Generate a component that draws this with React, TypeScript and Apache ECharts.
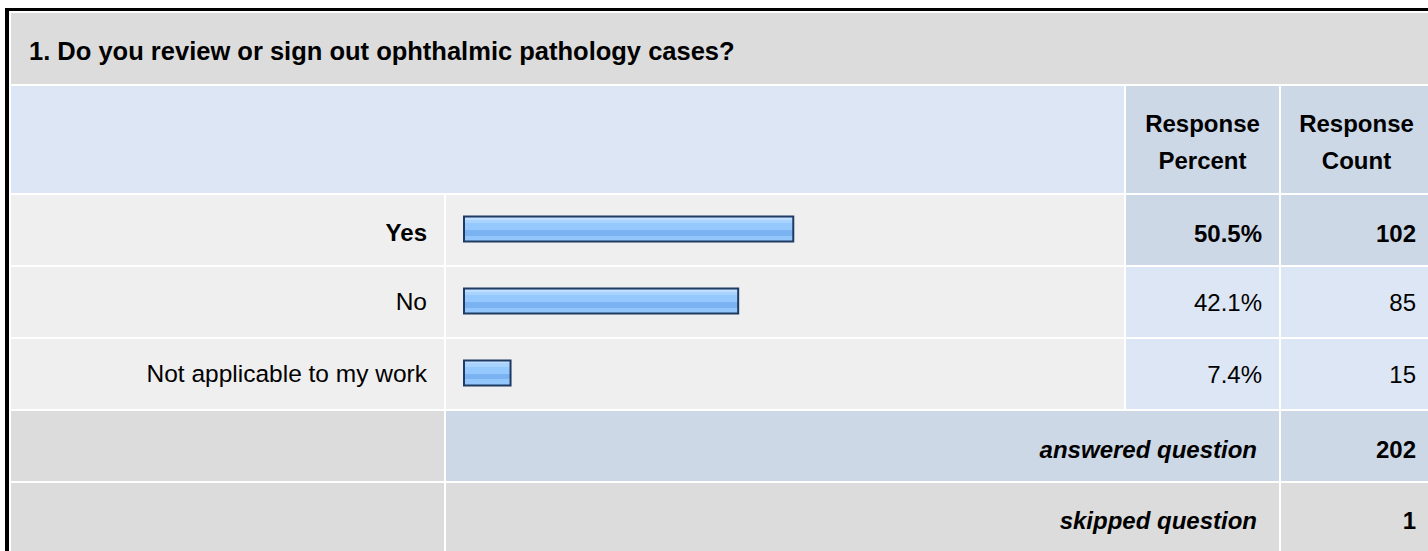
import React, { useEffect, useRef } from "react";
import * as echarts from "echarts";

const title = "1. Do you review or sign out ophthalmic pathology cases?";
const categories = ["Yes", "No", "Not applicable to my work"];
const percents = [50.5, 42.1, 7.4];
const percentLabels = ["50.5%", "42.1%", "7.4%"];
const counts = [102, 85, 15];
const headerPercent = "Response\nPercent";
const headerCount = "Response\nCount";
const answeredLabel = "answered question";
const answeredCount = 202;
const skippedLabel = "skipped question";
const skippedCount = 1;

const FONT = "'Liberation Sans', Arial, Helvetica, sans-serif";

export default function App() {
  const ref = useRef<HTMLDivElement>(null);
  useEffect(() => {
    document.body.style.margin = "0";
    if (!ref.current) return;
    const chart = echarts.init(ref.current, undefined, { renderer: "svg" });

    const maxIdx = percents.indexOf(Math.max(...percents));

    // layout
    const L = 11;
    const C1R = 444, C2L = 446, C2R = 1124, C3L = 1126, C3R = 1279, C4L = 1281, RIGHT = 1440;
    const gridTop = 193, band = 72;
    const rowTop = (i: number) => gridTop + 2 + i * band;
    const rowH = band - 2;
    const ansTop = rowTop(3), skipTop = rowTop(4);

    const rect = (x1: number, y1: number, x2: number, y2: number, fill: string) => ({
      type: "rect",
      z: 0,
      silent: true,
      shape: { x: x1, y: y1, width: x2 - x1, height: y2 - y1 },
      style: { fill },
    });
    const text = (
      s: string,
      x: number,
      y: number,
      align: string,
      weight: string,
      size = 24,
      style = "normal",
      lineHeight?: number
    ) => ({
      type: "text",
      z: 5,
      silent: true,
      style: {
        text: s,
        x,
        y,
        fill: "#000",
        fontFamily: FONT,
        fontSize: size,
        fontWeight: weight,
        fontStyle: style,
        lineHeight: lineHeight,
        textAlign: align,
        textVerticalAlign: "middle",
        align,
        verticalAlign: "middle",
      },
    });

    const BLUE_L = "#dce6f4";
    const BLUE_D = "#cdd8e6";
    const GRAY = "#dcdcdc";
    const ROW = "#efefef";

    const graphics: any[] = [
      rect(5, 8, RIGHT, 600, "#000"),
      rect(9, 11, RIGHT, 600, "#fff"),
      rect(L, 13, RIGHT, 84, GRAY),
      rect(L, 86, C2R, gridTop, BLUE_L),
      rect(C3L, 86, C3R, gridTop, BLUE_D),
      rect(C4L, 86, RIGHT, gridTop, BLUE_D),
      text(title, 29, 51, "left", "bold", 25.5),
      text(headerPercent, (C3L + C3R) / 2, 141.5, "center", "bold", 24, "normal", 37),
      text(headerCount, 1356.5, 141.5, "center", "bold", 24, "normal", 37),
    ];

    categories.forEach((_, i) => {
      const t = rowTop(i);
      const b = t + rowH;
      const hi = i === maxIdx;
      graphics.push(rect(L, t, C1R, b, ROW));
      graphics.push(rect(C2L, t, C2R, b, ROW));
      graphics.push(rect(C3L, t, C3R, b, hi ? BLUE_D : BLUE_L));
      graphics.push(rect(C4L, t, RIGHT, b, hi ? BLUE_D : BLUE_L));
      const cy = t + rowH / 2 + (hi ? 3 : 0);
      graphics.push(text(percentLabels[i], 1262, cy, "right", hi ? "bold" : "normal"));
      graphics.push(text(String(counts[i]), 1416, cy, "right", hi ? "bold" : "normal"));
    });

    graphics.push(rect(L, ansTop, C1R, ansTop + rowH, GRAY));
    graphics.push(rect(C2L, ansTop, C3R, ansTop + rowH, BLUE_D));
    graphics.push(rect(C4L, ansTop, RIGHT, ansTop + rowH, BLUE_D));
    graphics.push(text(answeredLabel, 1257, ansTop + rowH / 2 + 3, "right", "bold", 24, "italic"));
    graphics.push(text(String(answeredCount), 1416, ansTop + rowH / 2 + 3, "right", "bold"));

    graphics.push(rect(L, skipTop, C1R, skipTop + rowH, GRAY));
    graphics.push(rect(C2L, skipTop, C3R, skipTop + rowH, GRAY));
    graphics.push(rect(C4L, skipTop, RIGHT, skipTop + rowH, GRAY));
    graphics.push(text(skippedLabel, 1257, skipTop + rowH / 2 + 2, "right", "bold", 24, "italic"));
    graphics.push(text(String(skippedCount), 1416, skipTop + rowH / 2 + 2, "right", "bold"));

    const barFill = new echarts.graphic.LinearGradient(0, 0, 0, 1, [
      { offset: 0, color: "#c0deff" },
      { offset: 0.12, color: "#c0deff" },
      { offset: 0.12, color: "#a8d3ff" },
      { offset: 0.26, color: "#a8d3ff" },
      { offset: 0.26, color: "#95c8fd" },
      { offset: 0.55, color: "#95c8fd" },
      { offset: 0.55, color: "#7bb3f2" },
      { offset: 0.76, color: "#7bb3f2" },
      { offset: 0.76, color: "#93c6fb" },
      { offset: 1, color: "#93c6fb" },
    ]);

    chart.setOption({
      animation: false,
      graphic: graphics,
      grid: { left: 463, width: 656, top: gridTop, height: band * categories.length, containLabel: false },
      xAxis: { type: "value", min: 0, max: 100, show: false },
      yAxis: {
        type: "category",
        data: categories,
        inverse: true,
        axisLine: { show: false },
        axisTick: { show: false },
        splitLine: { show: false },
        z: 10,
        axisLabel: {
          margin: 36,
          color: "#000",
          fontFamily: FONT,
          fontSize: 24.5,
          formatter: (v: string, i: number) => (i === maxIdx ? `{b|${v}}` : `{n|${v}}`),
          rich: {
            b: { fontWeight: "bold", fontSize: 24, fontFamily: FONT, color: "#000", padding: [6, 0, 0, 0] },
            n: { fontSize: 24.5, fontFamily: FONT, color: "#000" },
          },
        },
      },
      series: [
        {
          type: "bar",
          data: percents,
          barWidth: 27,
          z: 3,
          itemStyle: { color: barFill, borderColor: "#1f3a63", borderWidth: 2 },
        },
      ],
    });
    return () => chart.dispose();
  }, []);
  return <div ref={ref} style={{ width: 1428, height: 551 }} />;
}
